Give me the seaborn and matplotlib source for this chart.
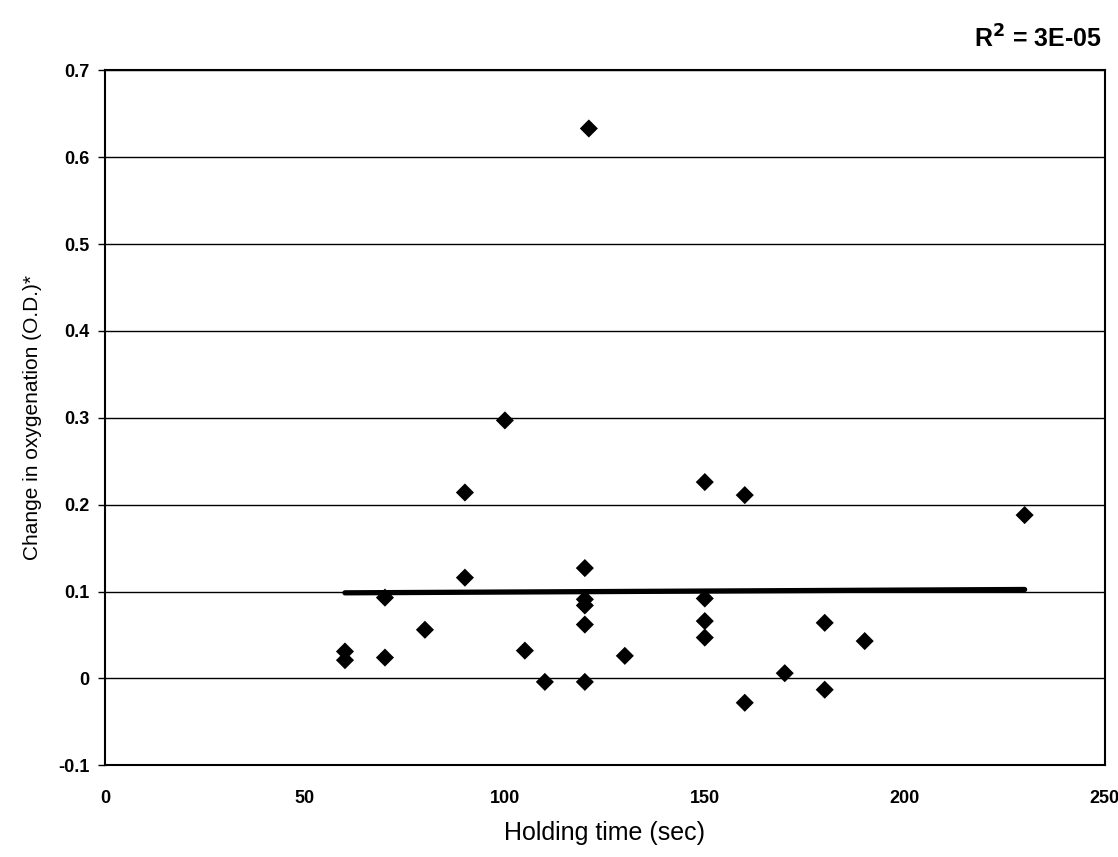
import numpy as np
import pandas as pd
import matplotlib
matplotlib.use("Agg")
import matplotlib.pyplot as plt
import seaborn as sns

# values
holding_time = [60, 60, 70, 70, 80, 90, 90, 100, 105, 110,
                120, 120, 120, 120, 120, 121, 130, 150, 150, 150,
                150, 160, 160, 170, 180, 180, 190, 230]
oxygenation_change = [0.031, 0.021, 0.093, 0.024, 0.056, 0.214, 0.116, 0.297, 0.032, -0.004,
                      0.127, 0.091, 0.084, 0.062, -0.004, 0.633, 0.026, 0.226, 0.092, 0.066,
                      0.047, 0.211, -0.028, 0.006, 0.064, -0.013, 0.043, 0.188]
x_ticks = [0, 50, 100, 150, 200, 250]
y_ticks = [-0.1, 0, 0.1, 0.2, 0.3, 0.4, 0.5, 0.6, 0.7]
y_tick_labels = ["-0.1", "0", "0.1", "0.2", "0.3", "0.4", "0.5", "0.6", "0.7"]

df = pd.DataFrame({"time": holding_time, "change": oxygenation_change})

sns.set_style("ticks")
plt.rcParams['font.family'] = ['Liberation Sans', 'DejaVu Sans']
plt.rcParams['text.color'] = 'black'
plt.rcParams['axes.labelcolor'] = 'black'
plt.rcParams['xtick.color'] = 'black'
plt.rcParams['ytick.color'] = 'black'

fig = plt.figure(figsize=(11.18, 8.57), dpi=100)
ax = fig.add_axes([0.094, 0.107, 0.894, 0.811])

for yv in y_ticks:
    ax.axhline(yv, color='black', lw=1.0, zorder=0)

sns.regplot(data=df, x="time", y="change", ax=ax, ci=None, truncate=True,
            marker='D', color='black',
            scatter_kws={'s': 85, 'color': 'black', 'alpha': 1, 'edgecolors': 'none', 'zorder': 3},
            line_kws={'color': 'black', 'lw': 3.8, 'zorder': 2})

ax.set_xlim(0, 250)
ax.set_ylim(-0.1, 0.7)
ax.set_xticks(x_ticks)
ax.set_xticklabels([str(t) for t in x_ticks], fontsize=13, fontweight='bold')
ax.set_yticks(y_ticks)
ax.set_yticklabels(y_tick_labels, fontsize=13, fontweight='bold')
ax.tick_params(axis='x', length=0, pad=18)
ax.tick_params(axis='y', length=5, width=1, color='black', pad=6)

for s in ax.spines.values():
    s.set_visible(True)
    s.set_color('black')
    s.set_linewidth(1.5)

ax.set_xlabel("Holding time (sec)", fontsize=18, labelpad=10)
ax.set_ylabel("Change in oxygenation (O.D.)*", fontsize=15, labelpad=12)

fig.text(0.985, 0.955, r"R$^\mathbf{2}$ = 3E-05", ha='right', va='center',
         fontsize=18, fontweight='bold')

fig.savefig("out.png", dpi=100)
